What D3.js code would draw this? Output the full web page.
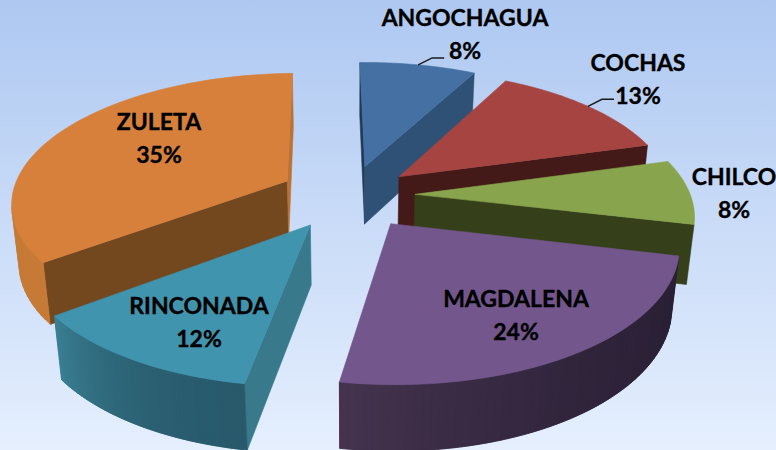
<!doctype html>
<meta charset="utf-8">
<title>Pie 3D</title>
<style>
body { margin: 0; }
text { font-family: Lato, "Open Sans", sans-serif; font-weight: 700; font-size: 23px; fill: #000; stroke: #000; stroke-width: 0.35px; text-anchor: middle; }
</style>
<script src="https://cdn.jsdelivr.net/npm/d3@7"></script>
<body>
<script>
var categories = ["ANGOCHAGUA", "COCHAS", "CHILCO", "MAGDALENA", "RINCONADA", "ZULETA"];
var percents = [8, 13, 8, 24, 12, 35];

// slice look, same order as categories
var topColors = ["#4570a3", "#a64441", "#88a44d", "#72568c", "#4094ad", "#d6803c"];
var startWall = ["#1f3a55", "#431a17", "#35401b", "#2b2139", "#38798b", "#73481f"];
var endWall = ["#2f5175", "#431a17", "#35401b", "#46344f", "#38798b", "#bb7233"];
var arcFrom = ["#2f5175", "#431a17", "#35401b", "#2a2036", "#285a6c", "#c67a36"];
var arcTo = ["#2f5175", "#431a17", "#35401b", "#46344f", "#3a7f93", "#b86f2e"];
var explode = [65, 64, 65, 72, 73, 71];

// label centre and first baseline, second line sits 33px lower
var labelX = [465, 638, 734, 516, 199, 159];
var labelY = [26, 71, 185, 307, 314, 130];
var hasLeader = [true, true, false, false, false, false];

var width = 776, height = 450;
var cx = 350, cy = 195, radius = 275.4, squash = 0.463, persp = 0.149, rot = -0.021, shear = 0.008;
var depth = 60, shrink = 0.022;

var svg = d3.select("body").append("svg")
    .attr("width", width)
    .attr("height", height)
    .style("display", "block");

var grad = svg.append("defs").append("linearGradient")
    .attr("id", "bg")
    .attr("x1", 0).attr("y1", 0).attr("x2", 0).attr("y2", 1);
grad.append("stop").attr("offset", "0%").attr("stop-color", "#aec8f1");
grad.append("stop").attr("offset", "100%").attr("stop-color", "#e5effe");

svg.append("rect")
    .attr("width", width)
    .attr("height", height)
    .attr("fill", "url(#bg)");

var slices = d3.pie().sort(null).value(function(d) { return d; })(percents);
var line = d3.line();

// flat pie coords + height (z 0 top, 1 bottom) to screen
function project(x, y, z) {
  var w = 1 + persp * y / radius + shrink * z;
  return [cx + (x + shear * y) / w, cy + (depth * z - squash * y) / w];
}

function point(i, angle, r, z) {
  var mid = (slices[i].startAngle + slices[i].endAngle) / 2 + rot;
  var a = angle + rot;
  return project(
    explode[i] * Math.sin(mid) + r * radius * Math.sin(a),
    explode[i] * Math.cos(mid) + r * radius * Math.cos(a),
    z);
}

function arcAngles(i, n) {
  return d3.range(n + 1).map(function(k) {
    return slices[i].startAngle + (slices[i].endAngle - slices[i].startAngle) * k / n;
  });
}

function face(g, pts, color) {
  g.append("path")
    .attr("d", line(pts) + "Z")
    .attr("fill", color)
    .attr("stroke", color)
    .attr("stroke-width", 0.6);
}

// wall between two edges, skipped when it faces away
function wall(g, p, q, i, color) {
  var pts = [point(i, p[0], p[1], 0), point(i, q[0], q[1], 0), point(i, q[0], q[1], 1), point(i, p[0], p[1], 1)];
  if (d3.polygonArea(pts) > 0) face(g, pts, color);
}

// back to front
[0, 1, 2, 5, 3, 4].forEach(function(i) {
  var g = svg.append("g").attr("class", "slice");
  var s = slices[i];
  var steps = 60;
  var color = d3.interpolateRgb(arcFrom[i], arcTo[i]);

  wall(g, [s.startAngle, 0], [s.startAngle, 1], i, startWall[i]);
  wall(g, [s.endAngle, 1], [s.endAngle, 0], i, endWall[i]);

  // strips run one step long so no seam shows between them
  var angles = arcAngles(i, steps);
  for (var k = 0; k < steps; k++) {
    var next = Math.min(k + 2, steps);
    var t = k / steps;
    wall(g, [angles[k], 1], [angles[next], 1], i, color(t * t));
  }

  var top = [point(i, s.startAngle, 0, 0)].concat(angles.map(function(a) { return point(i, a, 1, 0); }));
  face(g, top, topColors[i]);
});

// leader lines start on the middle of the arc
categories.forEach(function(name, i) {
  if (!hasLeader[i]) return;
  var p = point(i, (slices[i].startAngle + slices[i].endAngle) / 2, 1, 0);
  svg.append("path")
    .attr("d", line([p, [p[0] + 14, p[1] - 7], [p[0] + 26, p[1] - 7]]))
    .attr("fill", "none")
    .attr("stroke", "#1a1a1a")
    .attr("stroke-width", 1.5);
});

categories.forEach(function(name, i) {
  svg.append("text").attr("x", labelX[i]).attr("y", labelY[i]).text(name);
  svg.append("text").attr("x", labelX[i]).attr("y", labelY[i] + 33).text(percents[i] + "%");
});
</script>
</body>
